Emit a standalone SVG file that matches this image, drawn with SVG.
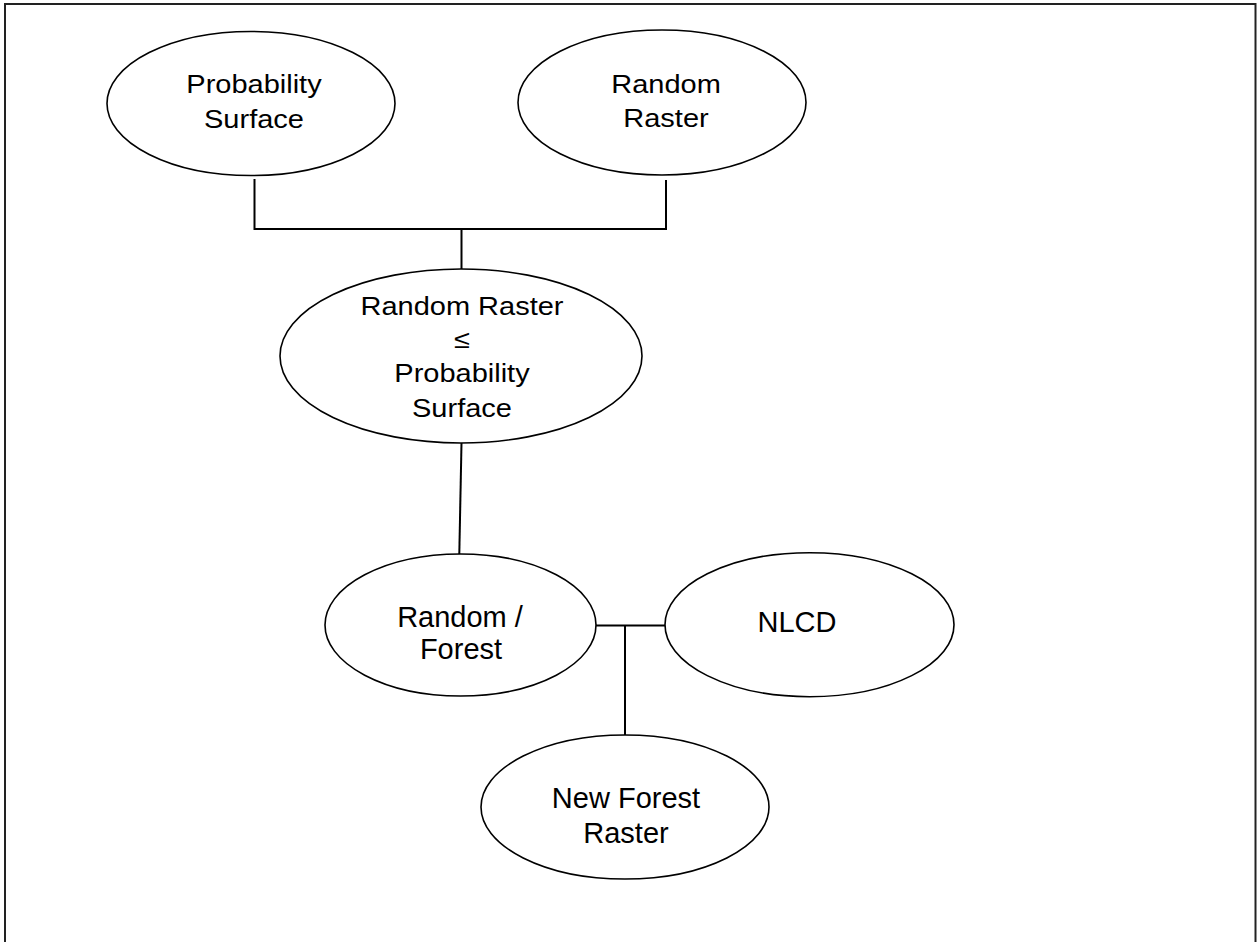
<svg xmlns="http://www.w3.org/2000/svg" width="1257" height="942" viewBox="0 0 1257 942">
<style>
.node ellipse{fill:#fff;stroke:#000;stroke-width:1.6}
.conn line,.conn polyline{fill:none;stroke:#000;stroke-width:2}
text{font-family:"Liberation Sans",Arial,sans-serif;font-size:29px;fill:#000;text-anchor:middle}
</style>
<rect x="0" y="0" width="1257" height="942" fill="#fff"/>
<rect x="5" y="4" width="1250.5" height="945" fill="none" stroke="#222" stroke-width="2"/>
<g id="connectors" class="conn">
<polyline points="254.5,179 254.5,229 666,229 666,180"/>
<line x1="461.5" y1="229" x2="461.5" y2="269"/>
<line x1="461.5" y1="443" x2="459.3" y2="554"/>
<line x1="596" y1="625.5" x2="666" y2="625.5"/>
<line x1="625" y1="625.5" x2="625" y2="735"/>
</g>
<g id="node-probability-surface" class="node">
<ellipse cx="251" cy="103.5" rx="144" ry="72"/>
<g transform="translate(254,0) scale(1,0.87)">
<text x="0" y="107.2">Probability</text>
<text x="0" y="147.5">Surface</text>
</g>
</g>
<g id="node-random-raster" class="node">
<ellipse cx="662" cy="102.5" rx="144" ry="72.5"/>
<g transform="translate(666,0) scale(1,0.87)">
<text x="0" y="106.5">Random</text>
<text x="0" y="145.6">Raster</text>
</g>
</g>
<g id="node-comparison" class="node">
<ellipse cx="461" cy="356" rx="181" ry="87"/>
<g transform="translate(462,0) scale(1,0.87)">
<text x="0" y="362">Random Raster</text>
<text x="0" y="400">≤</text>
<text x="0" y="439">Probability</text>
<text x="0" y="479.3">Surface</text>
</g>
</g>
<g id="node-random-forest" class="node">
<ellipse cx="460.5" cy="625" rx="135.5" ry="71"/>
<text x="460" y="627.3">Random /</text>
<text x="461" y="659.3">Forest</text>
</g>
<g id="node-nlcd" class="node">
<ellipse cx="809.5" cy="624.7" rx="144.5" ry="72"/>
<text x="797" y="631.7">NLCD</text>
</g>
<g id="node-new-forest-raster" class="node">
<ellipse cx="625" cy="807" rx="144" ry="72"/>
<text x="626" y="808.3">New Forest</text>
<text x="626" y="843.3">Raster</text>
</g>
</svg>
